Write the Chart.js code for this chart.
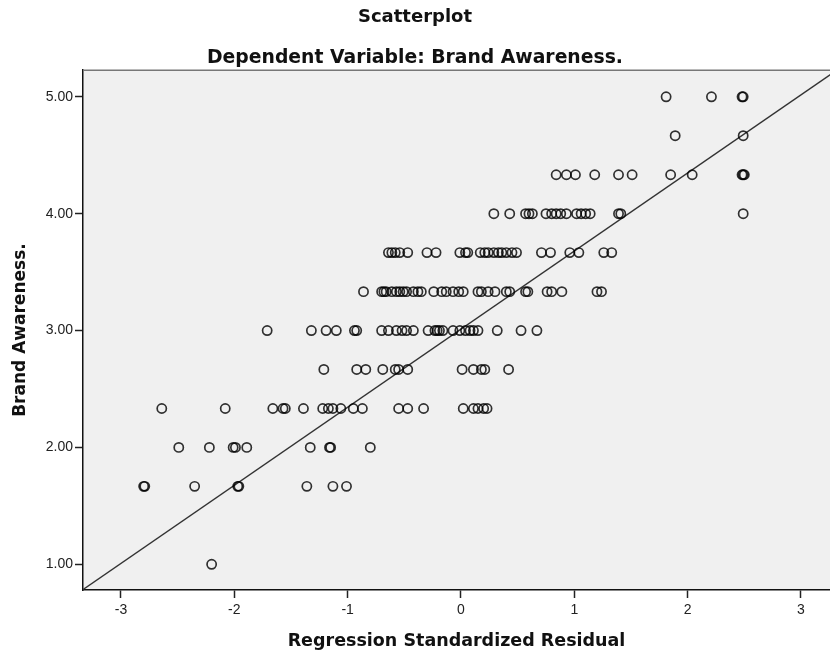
<!DOCTYPE html>
<html>
<head>
<meta charset="utf-8">
<script src="https://cdn.jsdelivr.net/npm/chart.js@4.4.1/dist/chart.umd.min.js"></script>
<style>
  html, body { margin: 0; padding: 0; background: #fff; }
  #wrap { width: 830px; height: 655px; }
</style>
</head>
<body>
<div id="wrap"><canvas id="scatter"></canvas></div>
<script>
// awareness levels (y) and the standardized residuals (x) observed at each level
const levels = [5.00, 4.667, 4.333, 4.00, 3.667, 3.333, 3.00, 2.667, 2.333, 2.00, 1.667, 1.00];

const res500 = [1.81, 2.21, 2.48, 2.49];
const res467 = [1.89, 2.49];
const res433 = [0.84, 0.93, 1.01, 1.18, 1.39, 1.51, 1.85, 2.04, 2.48, 2.49, 2.50];
const res400 = [0.29, 0.43, 0.57, 0.60, 0.63, 0.75, 0.80, 0.84, 0.88, 0.93, 1.02, 1.06, 1.10, 1.14, 1.39, 1.41, 2.49];
const res367 = [-0.64, -0.61, -0.58, -0.54, -0.47, -0.30, -0.22, -0.01, 0.04, 0.06, 0.17, 0.21, 0.24, 0.29,
                0.33, 0.36, 0.40, 0.45, 0.49, 0.71, 0.79, 0.96, 1.04, 1.26, 1.33];
const res333 = [-0.86, -0.70, -0.68, -0.66, -0.61, -0.57, -0.54, -0.51, -0.48, -0.42, -0.38, -0.35, -0.24, -0.17,
                -0.13, -0.07, -0.02, 0.02, 0.15, 0.18, 0.24, 0.30, 0.40, 0.43, 0.57, 0.59, 0.76, 0.80, 0.89, 1.20, 1.24];
const res300 = [-1.71, -1.32, -1.19, -1.10, -0.94, -0.92, -0.70, -0.64, -0.57, -0.52, -0.48, -0.42, -0.29, -0.23,
                -0.21, -0.19, -0.16, -0.07, -0.01, 0.04, 0.08, 0.11, 0.15, 0.32, 0.53, 0.67];
const res267 = [-1.21, -0.92, -0.84, -0.69, -0.58, -0.55, -0.47, 0.01, 0.11, 0.18, 0.21, 0.42];
const res233 = [-2.64, -2.08, -1.66, -1.57, -1.55, -1.39, -1.22, -1.17, -1.13, -1.06, -0.95, -0.87, -0.55, -0.47,
                -0.33, 0.02, 0.11, 0.15, 0.20, 0.23];
const res200 = [-2.49, -2.22, -2.01, -1.99, -1.89, -1.33, -1.16, -1.15, -0.80];
const res167 = [-2.80, -2.79, -2.35, -1.97, -1.96, -1.36, -1.13, -1.01];
const res100 = [-2.20];

// fit line end points
const fitX = [-3.34, 3.26];
const fitY = [0.78, 5.19];

const xTicks = [-3, -2, -1, 0, 1, 2, 3];
const yTicks = [1, 2, 3, 4, 5];

const residualRows = [res500, res467, res433, res400, res367, res333, res300, res267, res233, res200, res167, res100];

const points = [];
residualRows.forEach((row, i) => {
  row.forEach(r => points.push({ x: r, y: levels[i] }));
});

const plotFrame = {
  id: 'plotFrame',
  beforeDraw(chart) {
    const { ctx, chartArea: a } = chart;
    ctx.save();
    ctx.fillStyle = '#f0f0f0';
    ctx.fillRect(a.left, a.top, a.right - a.left, a.bottom - a.top);
    ctx.restore();
  },
  afterDraw(chart) {
    const { ctx, chartArea: a } = chart;
    ctx.save();
    ctx.strokeStyle = '#777';
    ctx.lineWidth = 1.5;
    ctx.beginPath();
    ctx.moveTo(a.left, a.top);
    ctx.lineTo(a.right, a.top);
    ctx.stroke();
    ctx.restore();
  }
};

const tickFont = { family: 'Arial, "Liberation Sans", sans-serif', size: 14 };
const titleFamily = '"DejaVu Sans", Verdana, sans-serif';

new Chart(document.getElementById('scatter').getContext('2d'), {
  type: 'scatter',
  data: {
    datasets: [
      {
        label: 'Observed',
        data: points,
        showLine: false,
        pointRadius: 4.6,
        pointBorderWidth: 1.7,
        pointBackgroundColor: 'rgba(0,0,0,0)',
        pointBorderColor: 'rgba(0,0,0,0.8)'
      },
      {
        type: 'line',
        label: 'Fit',
        data: fitX.map((x, i) => ({ x: x, y: fitY[i] })),
        borderColor: '#333',
        borderWidth: 1.3,
        pointRadius: 0,
        fill: false
      }
    ]
  },
  options: {
    responsive: true,
    maintainAspectRatio: false,
    animation: false,
    layout: { padding: 0, autoPadding: false },
    plugins: {
      legend: { display: false },
      tooltip: { enabled: false },
      title: {
        display: true,
        text: 'Scatterplot',
        color: '#111',
        font: { family: titleFamily, size: 18, weight: 'bold', lineHeight: 1.2 },
        padding: { top: 7, bottom: 0 }
      },
      subtitle: {
        display: true,
        text: 'Dependent Variable: Brand Awareness.',
        color: '#111',
        font: { family: titleFamily, size: 18.8, weight: 'bold', lineHeight: 1.2 },
        padding: { top: 18, bottom: 1 }
      }
    },
    scales: {
      x: {
        type: 'linear',
        min: -3.335,
        max: 3.256,
        afterFit: s => { s.height = 65; s.paddingLeft = 0; s.paddingRight = 0; },
        afterBuildTicks: s => { s.ticks = xTicks.map(v => ({ value: v })); },
        border: { display: true, color: '#111', width: 1.5 },
        grid: { drawOnChartArea: false, drawTicks: true, tickLength: 8, tickColor: '#222', tickWidth: 1.5 },
        ticks: { color: '#222', font: tickFont, padding: 4, callback: v => String(v) },
        title: {
          display: true,
          text: 'Regression Standardized Residual',
          color: '#111',
          font: { family: titleFamily, size: 17.5, weight: 'bold', lineHeight: 1.2 },
          padding: { top: 0, bottom: 3 }
        }
      },
      y: {
        type: 'linear',
        min: 0.78,
        max: 5.228,
        afterFit: s => { s.width = 83; s.paddingTop = 0; s.paddingBottom = 0; },
        afterBuildTicks: s => { s.ticks = yTicks.map(v => ({ value: v })); },
        border: { display: true, color: '#111', width: 1.5 },
        grid: { drawOnChartArea: false, drawTicks: true, tickLength: 8, tickColor: '#222', tickWidth: 1.5 },
        ticks: { color: '#222', font: tickFont, padding: 2, callback: v => v.toFixed(2) },
        title: {
          display: true,
          text: 'Brand Awareness.',
          color: '#111',
          font: { family: titleFamily, size: 17, weight: 'bold', lineHeight: 1.2 },
          padding: { top: 10, bottom: 0 }
        }
      }
    }
  },
  plugins: [plotFrame]
});
</script>
</body>
</html>
